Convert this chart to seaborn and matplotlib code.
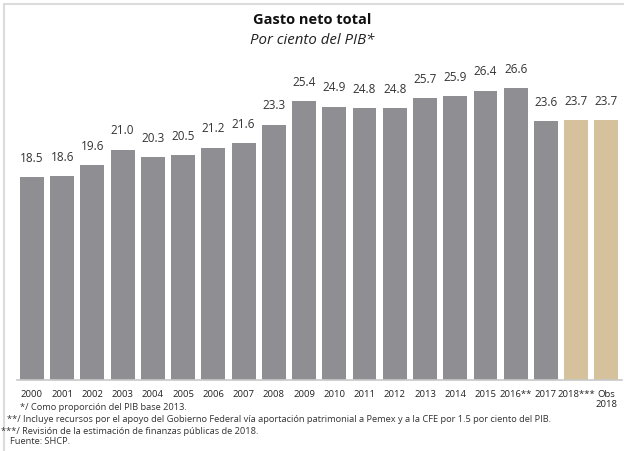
import pandas as pd
import matplotlib.pyplot as plt
import seaborn as sns
from matplotlib.lines import Line2D

# Data
years = ["2000", "2001", "2002", "2003", "2004", "2005", "2006", "2007", "2008", "2009",
         "2010", "2011", "2012", "2013", "2014", "2015", "2016**", "2017", "2018***", "Obs\n2018"]
gasto = [18.5, 18.6, 19.6, 21.0, 20.3, 20.5, 21.2, 21.6, 23.3, 25.4,
         24.9, 24.8, 24.8, 25.7, 25.9, 26.4, 26.6, 23.6, 23.7, 23.7]
tipo = ["obs"] * 18 + ["est"] * 2

footnotes = [
    "*/ Como proporción del PIB base 2013.",
    "**/ Incluye recursos por el apoyo del Gobierno Federal vía aportación patrimonial a Pemex y a la CFE por 1.5 por ciento del PIB.",
    "***/ Revisión de la estimación de finanzas públicas de 2018.",
    "Fuente: SHCP.",
]

df = pd.DataFrame({"anio": years, "gasto": gasto, "tipo": tipo})

sns.set_style("white")
plt.rcParams["font.family"] = ["Open Sans", "DejaVu Sans"]

fig = plt.figure(figsize=(6.24, 4.51), dpi=100)
ax = fig.add_axes([0.027, 0.1574, 0.969, 0.7051])

sns.barplot(data=df, x="anio", y="gasto", hue="tipo",
            palette={"obs": "#8f8e93", "est": "#d5c19c"}, saturation=1,
            dodge=False, width=0.79, legend=False, edgecolor="none", ax=ax)

for i, v in enumerate(gasto):
    ax.annotate(f"{v:.1f}", (i, v), xytext=(0, 9), textcoords="offset points",
                ha="center", va="bottom", fontsize=8.5, color="#333333",
                annotation_clip=False)

ax.set_xlim(-0.5, len(years) - 0.5)
ax.set_ylim(0, 29)
ax.set_xlabel("")
ax.set_ylabel("")
ax.set_yticks([])
ax.tick_params(axis="x", length=0, labelsize=6.8, pad=7, labelcolor="#222222")
for s in ["top", "right", "left"]:
    ax.spines[s].set_visible(False)
ax.spines["bottom"].set_color("#c8c8c8")
ax.spines["bottom"].set_linewidth(1.2)

fig.text(0.5, 0.955, "Gasto neto total", ha="center", va="center",
         fontsize=10.5, fontweight="bold", color="#111111")
fig.text(0.5, 0.91, "Por ciento del PIB*", ha="center", va="center",
         fontsize=10.8, style="italic", color="#222222")

# Footnotes
fx = [20, 7, 1, 10]
fy = [407, 420, 431, 442]
for t, x, y in zip(footnotes, fx, fy):
    fig.text(x / 624, 1 - y / 451, t, ha="left", va="center", fontsize=6.7, color="#333333")

# light frame on the left and top
fig.add_artist(Line2D([4 / 624, 4 / 624], [0, 1 - 4 / 451], color="#dcdcdc", lw=1.5, zorder=0))
fig.add_artist(Line2D([4 / 624, 1], [1 - 4 / 451, 1 - 4 / 451], color="#dcdcdc", lw=1.5, zorder=0))

fig.savefig("out.png", dpi=100)
plt.close()
